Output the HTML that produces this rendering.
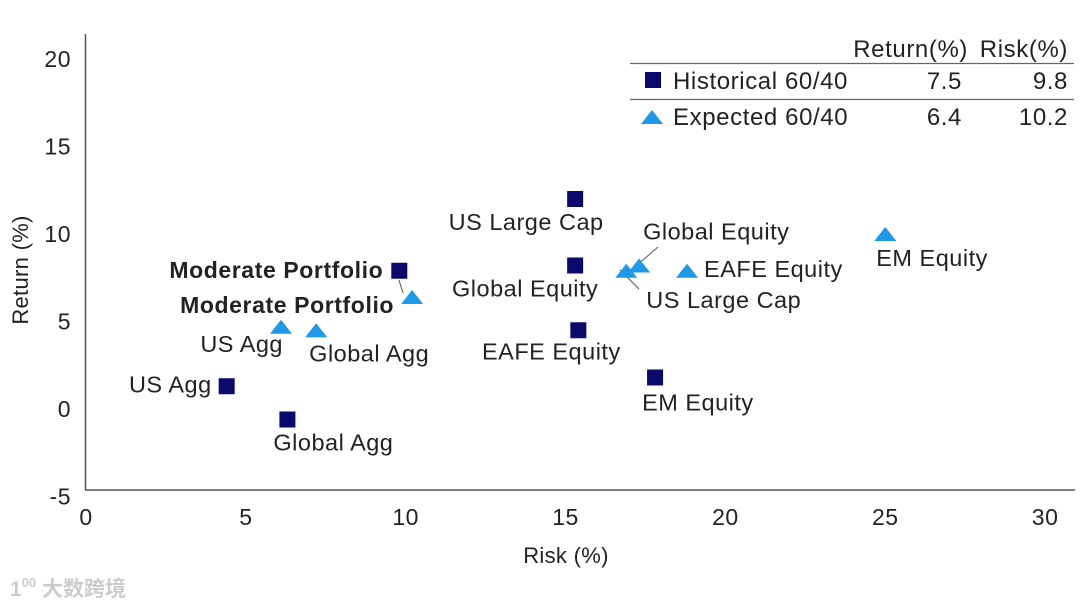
<!DOCTYPE html>
<html><head><meta charset="utf-8">
<style>
html,body{margin:0;padding:0;background:#fff;width:1080px;height:608px;overflow:hidden}
svg{font-family:"Liberation Sans","Noto Sans CJK SC",sans-serif}
</style></head>
<body>
<svg id="chart" width="1080" height="608" viewBox="0 0 1080 608" xmlns="http://www.w3.org/2000/svg">
<line x1="85.5" y1="34" x2="85.5" y2="490" stroke="#555" stroke-width="1.5"/>
<line x1="85" y1="490" x2="1075" y2="490" stroke="#555" stroke-width="1.5"/>
<text transform="translate(28,270) rotate(-90)" text-anchor="middle" font-size="22" letter-spacing="0.3" fill="#222">Return (%)</text>
<text x="566" y="563" text-anchor="middle" font-size="22" letter-spacing="0.3" fill="#222">Risk (%)</text>
<g font-size="24" letter-spacing="0.6" fill="#222">
<text x="968" y="57" text-anchor="end">Return(%)</text>
<text x="1068" y="57" text-anchor="end">Risk(%)</text>
<line x1="630" y1="63.5" x2="1074" y2="63.5" stroke="#666" stroke-width="1.2"/>
<line x1="630" y1="99.5" x2="1074" y2="99.5" stroke="#666" stroke-width="1.2"/>
<rect x="645" y="72" width="16" height="16" fill="#0a0a6e"/>
<text x="673" y="89">Historical 60/40</text>
<text x="962" y="89" text-anchor="end">7.5</text>
<text x="1068" y="89" text-anchor="end">9.8</text>
<polygon points="641,124 663,124 652,110" fill="#1e98e8"/>
<text x="673" y="125">Expected 60/40</text>
<text x="962" y="125" text-anchor="end">6.4</text>
<text x="1068" y="125" text-anchor="end">10.2</text>
</g>
<g id="ticks"></g>
<g id="leaders" stroke="#555" stroke-width="1" fill="none">
<line x1="399" y1="280" x2="403" y2="293"/>
<line x1="620" y1="270" x2="639" y2="289"/>
<line x1="636" y1="266" x2="658" y2="247"/>
</g>
<g id="marks"></g>
<text x="10" y="596" font-size="21" fill="#ccc" font-weight="bold">1<tspan font-size="13" dy="-9">00</tspan><tspan dy="9"> 大数跨境</tspan></text>
</svg>
<script>
var xTicks=[0,5,10,15,20,25,30];
var yTicks=[-5,0,5,10,15,20];
var histNames=["US Agg","Global Agg","Moderate Portfolio","US Large Cap","Global Equity","EAFE Equity","EM Equity"];
var histRisk=[4.4,6.3,9.8,15.3,15.3,15.4,17.8];
var histReturn=[1.3,-0.6,7.9,12.0,8.2,4.5,1.8];
var expNames=["US Agg","Global Agg","Moderate Portfolio","US Large Cap","Global Equity","EAFE Equity","EM Equity"];
var expRisk=[6.1,7.2,10.2,16.9,17.3,18.8,25.0];
var expReturn=[4.7,4.5,6.4,7.9,8.2,7.9,10.0];
var histLab=[[-15,6,"end"],[-14,31,"start"],[-16,7,"end"],[-49,31,"middle"],[-50,31,"middle"],[-27,29,"middle"],[-13,33,"start"]];
var expLab=[[2,25,"end"],[-7,31,"start"],[-18,16,"end"],[20,37,"start"],[4,-26,"start"],[17,6,"start"],[-9,32,"start"]];
function xs(v){return 86+v*31.97;}
function ys(v){return 409-v*17.5;}
var NS="http://www.w3.org/2000/svg";
var tg=document.getElementById('ticks'),mg=document.getElementById('marks');
function mk(tag,at,parent){var e=document.createElementNS(NS,tag);for(var k in at)e.setAttribute(k,at[k]);parent.appendChild(e);return e;}
xTicks.forEach(function(t){
 var e=mk('text',{x:xs(t),y:525,'text-anchor':'middle','font-size':23,'letter-spacing':0.5,fill:'#222'},tg);
 
 
 e.textContent=t;
});
yTicks.forEach(function(t){
 var e=mk('text',{x:71,y:ys(t)+8,'text-anchor':'end','font-size':23,'letter-spacing':0.5,fill:'#222'},tg);
 
 
 e.textContent=t;
});
function styleLabel(t,name){
 if(name==="Moderate Portfolio"){t.setAttribute('font-weight','bold');t.setAttribute('font-size','23');t.setAttribute('letter-spacing','0.6');}
 else{t.setAttribute('font-size','23.5');t.setAttribute('letter-spacing','0.5');}
}
histRisk.forEach(function(r,i){
 var cx=xs(r),cy=ys(histReturn[i]);
 var s=mk('rect',{x:cx-8,y:cy-8,width:16,height:16,fill:'#0a0a6e'},mg);
 
 
 var L=histLab[i];
 var t=mk('text',{x:cx+L[0],y:cy+L[1],'text-anchor':L[2],fill:'#222'},mg);
 styleLabel(t,histNames[i]);
 
 
 t.textContent=histNames[i];
});
expRisk.forEach(function(r,i){
 var cx=xs(r),cy=ys(expReturn[i]);
 var p=mk('polygon',{points:(cx-11)+','+(cy+7)+' '+(cx+11)+','+(cy+7)+' '+cx+','+(cy-7),fill:'#1e98e8'},mg);
 
 
 var L=expLab[i];
 var t=mk('text',{x:cx+L[0],y:cy+L[1],'text-anchor':L[2],fill:'#222'},mg);
 styleLabel(t,expNames[i]);
 
 
 t.textContent=expNames[i];
});
</script>
</body></html>
